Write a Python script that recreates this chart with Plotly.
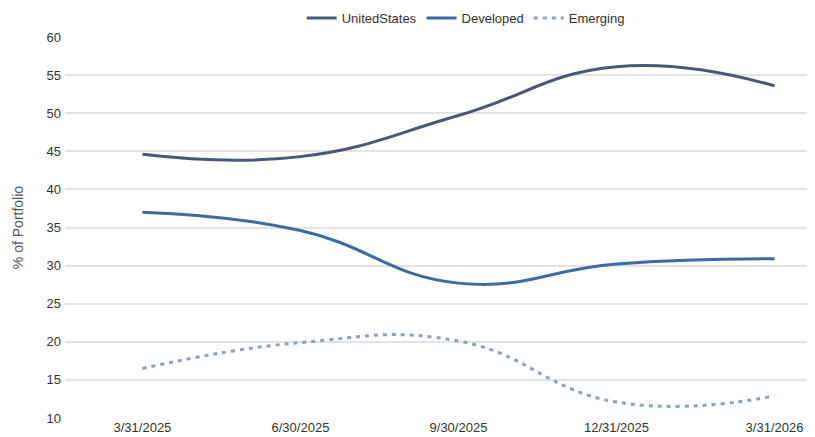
import plotly.graph_objects as go

dates = ["3/31/2025", "6/30/2025", "9/30/2025", "12/31/2025", "3/31/2026"]
united_states = [44.6, 44.3, 49.7, 56.1, 53.6]
developed = [37.0, 34.6, 27.7, 30.2, 30.9]
emerging = [16.5, 19.9, 20.1, 12.1, 12.9]
y_ticks = [10, 15, 20, 25, 30, 35, 40, 45, 50, 55, 60]

fig = go.Figure()
fig.add_trace(go.Scatter(x=dates, y=united_states, name="UnitedStates", mode="lines",
                         line=dict(color="#4b5875", width=3, shape="spline", smoothing=1.3)))
fig.add_trace(go.Scatter(x=dates, y=developed, name="Developed", mode="lines",
                         line=dict(color="#3d6b9e", width=3, shape="spline", smoothing=1.3)))
fig.add_trace(go.Scatter(x=dates, y=emerging, name="Emerging", mode="lines",
                         line=dict(color="#8c9fbf", width=3, shape="spline", smoothing=1.3, dash="4px,5px")))

fig.update_layout(
    width=815, height=437,
    margin=dict(l=57, r=9, t=29, b=27, autoexpand=False),
    paper_bgcolor="white", plot_bgcolor="white",
    font=dict(family="Liberation Sans, Arial, sans-serif", size=13, color="#333333"),
    showlegend=True,
    legend=dict(orientation="h", x=0.316, xanchor="left", y=1 - 10 / 437, yanchor="middle",
                yref="container", font=dict(size=13, color="#333333"),
                itemwidth=30, tracegroupgap=0, bgcolor="rgba(0,0,0,0)"),
    xaxis=dict(type="category", range=[-0.49, 4.25], showgrid=False, zeroline=False,
               showline=False, ticks="", tickfont=dict(size=13, color="#333333"),
               automargin=False),
    yaxis=dict(range=[10, 60], tickvals=y_ticks, showgrid=True, gridcolor="#e3e3e3",
               gridwidth=1.5, zeroline=False, showline=False, ticks="", ticklabelstandoff=3,
               title=dict(text="% of Portfolio", font=dict(size=14, color="#555555"), standoff=19),
               tickfont=dict(size=13, color="#333333"), automargin=False),
)
fig.write_html("out.html")
